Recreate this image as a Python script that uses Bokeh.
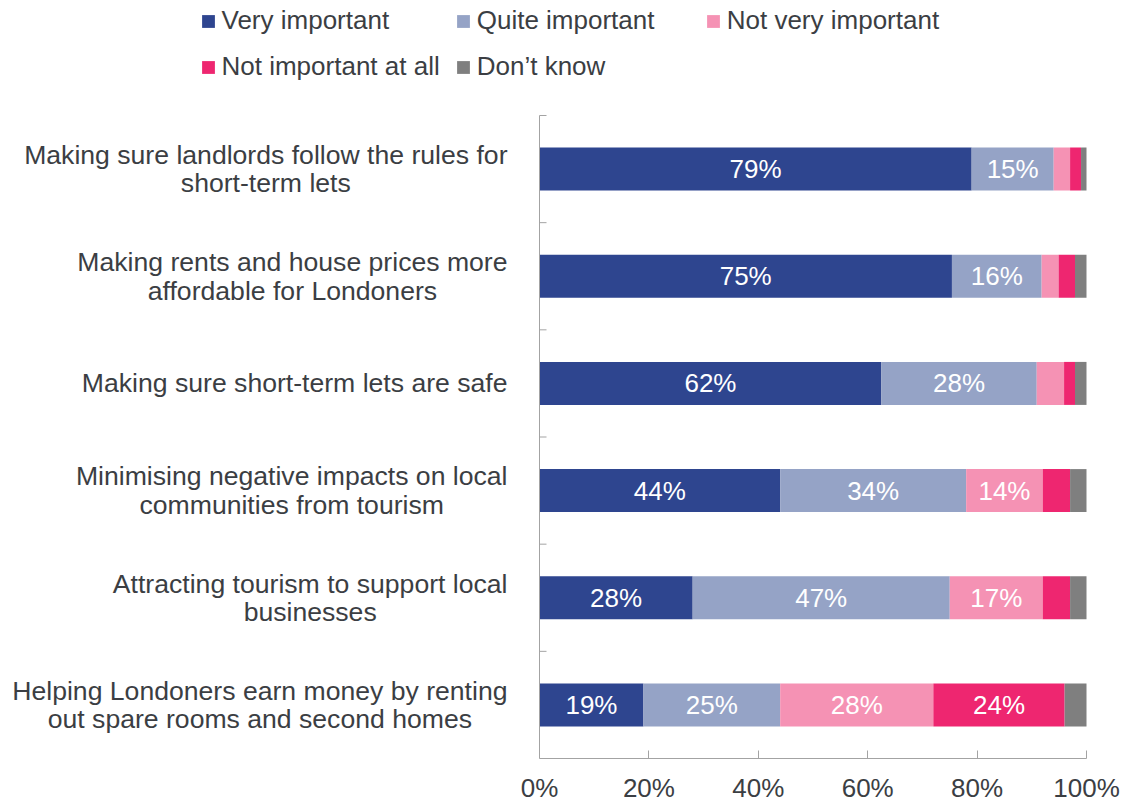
from bokeh.plotting import figure
from bokeh.models import (ColumnDataSource, FixedTicker, PrintfTickFormatter,
                          Legend, LegendItem, Range1d)
from bokeh.core.properties import value
from bokeh.embed import file_html
from bokeh.resources import INLINE

# ---------------- data ----------------
categories = [
    "Making sure landlords follow the rules for\nshort-term lets",
    "Making rents and house prices more\naffordable for Londoners",
    "Making sure short-term lets are safe",
    "Minimising negative impacts on local\ncommunities from tourism",
    "Attracting tourism to support local\nbusinesses",
    "Helping Londoners earn money by renting\nout spare rooms and second homes",
]
series_names = ["Very important", "Quite important", "Not very important",
                "Not important at all", "Don\u2019t know"]
very_important = [79.0, 75.4, 62.5, 44.0, 28.0, 19.0]
quite_important = [15.0, 16.4, 28.4, 34.0, 47.0, 25.0]
not_very_important = [3.0, 3.1, 5.0, 14.0, 17.0, 28.0]
not_important_at_all = [2.0, 3.0, 2.0, 5.0, 5.0, 24.0]
dont_know = [1.0, 2.1, 2.1, 3.0, 3.0, 4.0]
x_ticks = [0, 20, 40, 60, 80, 100]

colors = ["#2e458f", "#95a3c6", "#f592b4", "#ee2670", "#7f7f7f"]
TEXT = "#3b3e43"
AXIS = "#a3a3a3"
FONT = "Liberation Sans"

# ---------------- layout constants (pixels) ----------------
FW, FH = 1125, 758           # frame size
X0, X100 = 539, 1086         # frame px of 0% and 100%
px_per_x = (X100 - X0) / 100.0
x_start = -X0 / px_per_x
x_end = 100 + (FW - X100) / px_per_x
TOP_BOUND_PX = 115           # frame px of the top category boundary
px_per_y = (FH - TOP_BOUND_PX) / len(categories)
y_end = FH / px_per_y

n = len(categories)
ys = [n - i - 0.5 for i in range(n)]
series = [very_important, quite_important, not_very_important,
          not_important_at_all, dont_know]
keys = ["s%d" % i for i in range(len(series))]

src = ColumnDataSource({"y": ys, **{k: v for k, v in zip(keys, series)}})

p = figure(x_range=Range1d(x_start, x_end), y_range=Range1d(0, y_end),
           frame_width=FW, frame_height=FH, min_border=0,
           toolbar_location=None, output_backend="svg",
           y_axis_location=None, x_axis_location="below",
           background_fill_color="white", border_fill_color="white")
p.grid.visible = False
p.outline_line_color = None

bar_h = 43 / px_per_y
renderers = p.hbar_stack(keys, y="y", height=bar_h, color=colors,
                         line_color=None, source=src)

# segment labels
lx, ly, lt = [], [], []
for i in range(n):
    left = 0.0
    for s in series:
        v = s[i]
        if v >= 10:
            lx.append(left + v / 2)
            ly.append(ys[i])
            lt.append("%d%%" % round(v))
        left += v
p.text(x=lx, y=ly, text=lt, text_color="white", text_align="center",
       text_baseline="middle", text_font=value(FONT), text_font_size="26px")

# category labels
p.text(x=[0] * n, y=ys, text=categories, x_offset=-32,
       anchor="center_right", text_align="center", text_baseline="middle",
       text_color=TEXT, text_font=value(FONT), text_font_size="26.6px",
       text_line_height=0.95)

# y axis line and inner ticks
p.segment(x0=[0], y0=[0], x1=[0], y1=[n], line_color=AXIS, line_width=1)
tick_len = 7 / px_per_x
p.segment(x0=[0] * n, y0=list(range(1, n + 1)), x1=[tick_len] * n,
          y1=list(range(1, n + 1)), line_color=AXIS, line_width=1)

# x axis
ax = p.xaxis[0]
ax.bounds = (0, 100)
ax.ticker = FixedTicker(ticks=x_ticks)
ax.formatter = PrintfTickFormatter(format="%d%%")
ax.axis_line_color = AXIS
ax.major_tick_line_color = AXIS
ax.major_tick_in = 8
ax.major_tick_out = 0
ax.minor_tick_in = 0
ax.minor_tick_out = 0
ax.minor_tick_line_color = None
ax.major_label_standoff = 14
ax.major_label_text_font = FONT
ax.major_label_text_font_size = "26px"
ax.major_label_text_color = TEXT

# legend
items = [LegendItem(label=nm, renderers=[r]) for nm, r in zip(series_names, renderers)]
legend = Legend(items=items, orientation="horizontal", ncols=3,
                location=(199.5, FH - 82), padding=0, margin=0, spacing=15,
                glyph_width=16, glyph_height=16, label_standoff=6,
                label_width=213, label_height=26,
                label_text_font=FONT, label_text_font_size="26px",
                label_text_color=TEXT, border_line_color=None,
                background_fill_alpha=0)
p.add_layout(legend, "center")

open("out.html", "w").write(file_html(p, INLINE))
